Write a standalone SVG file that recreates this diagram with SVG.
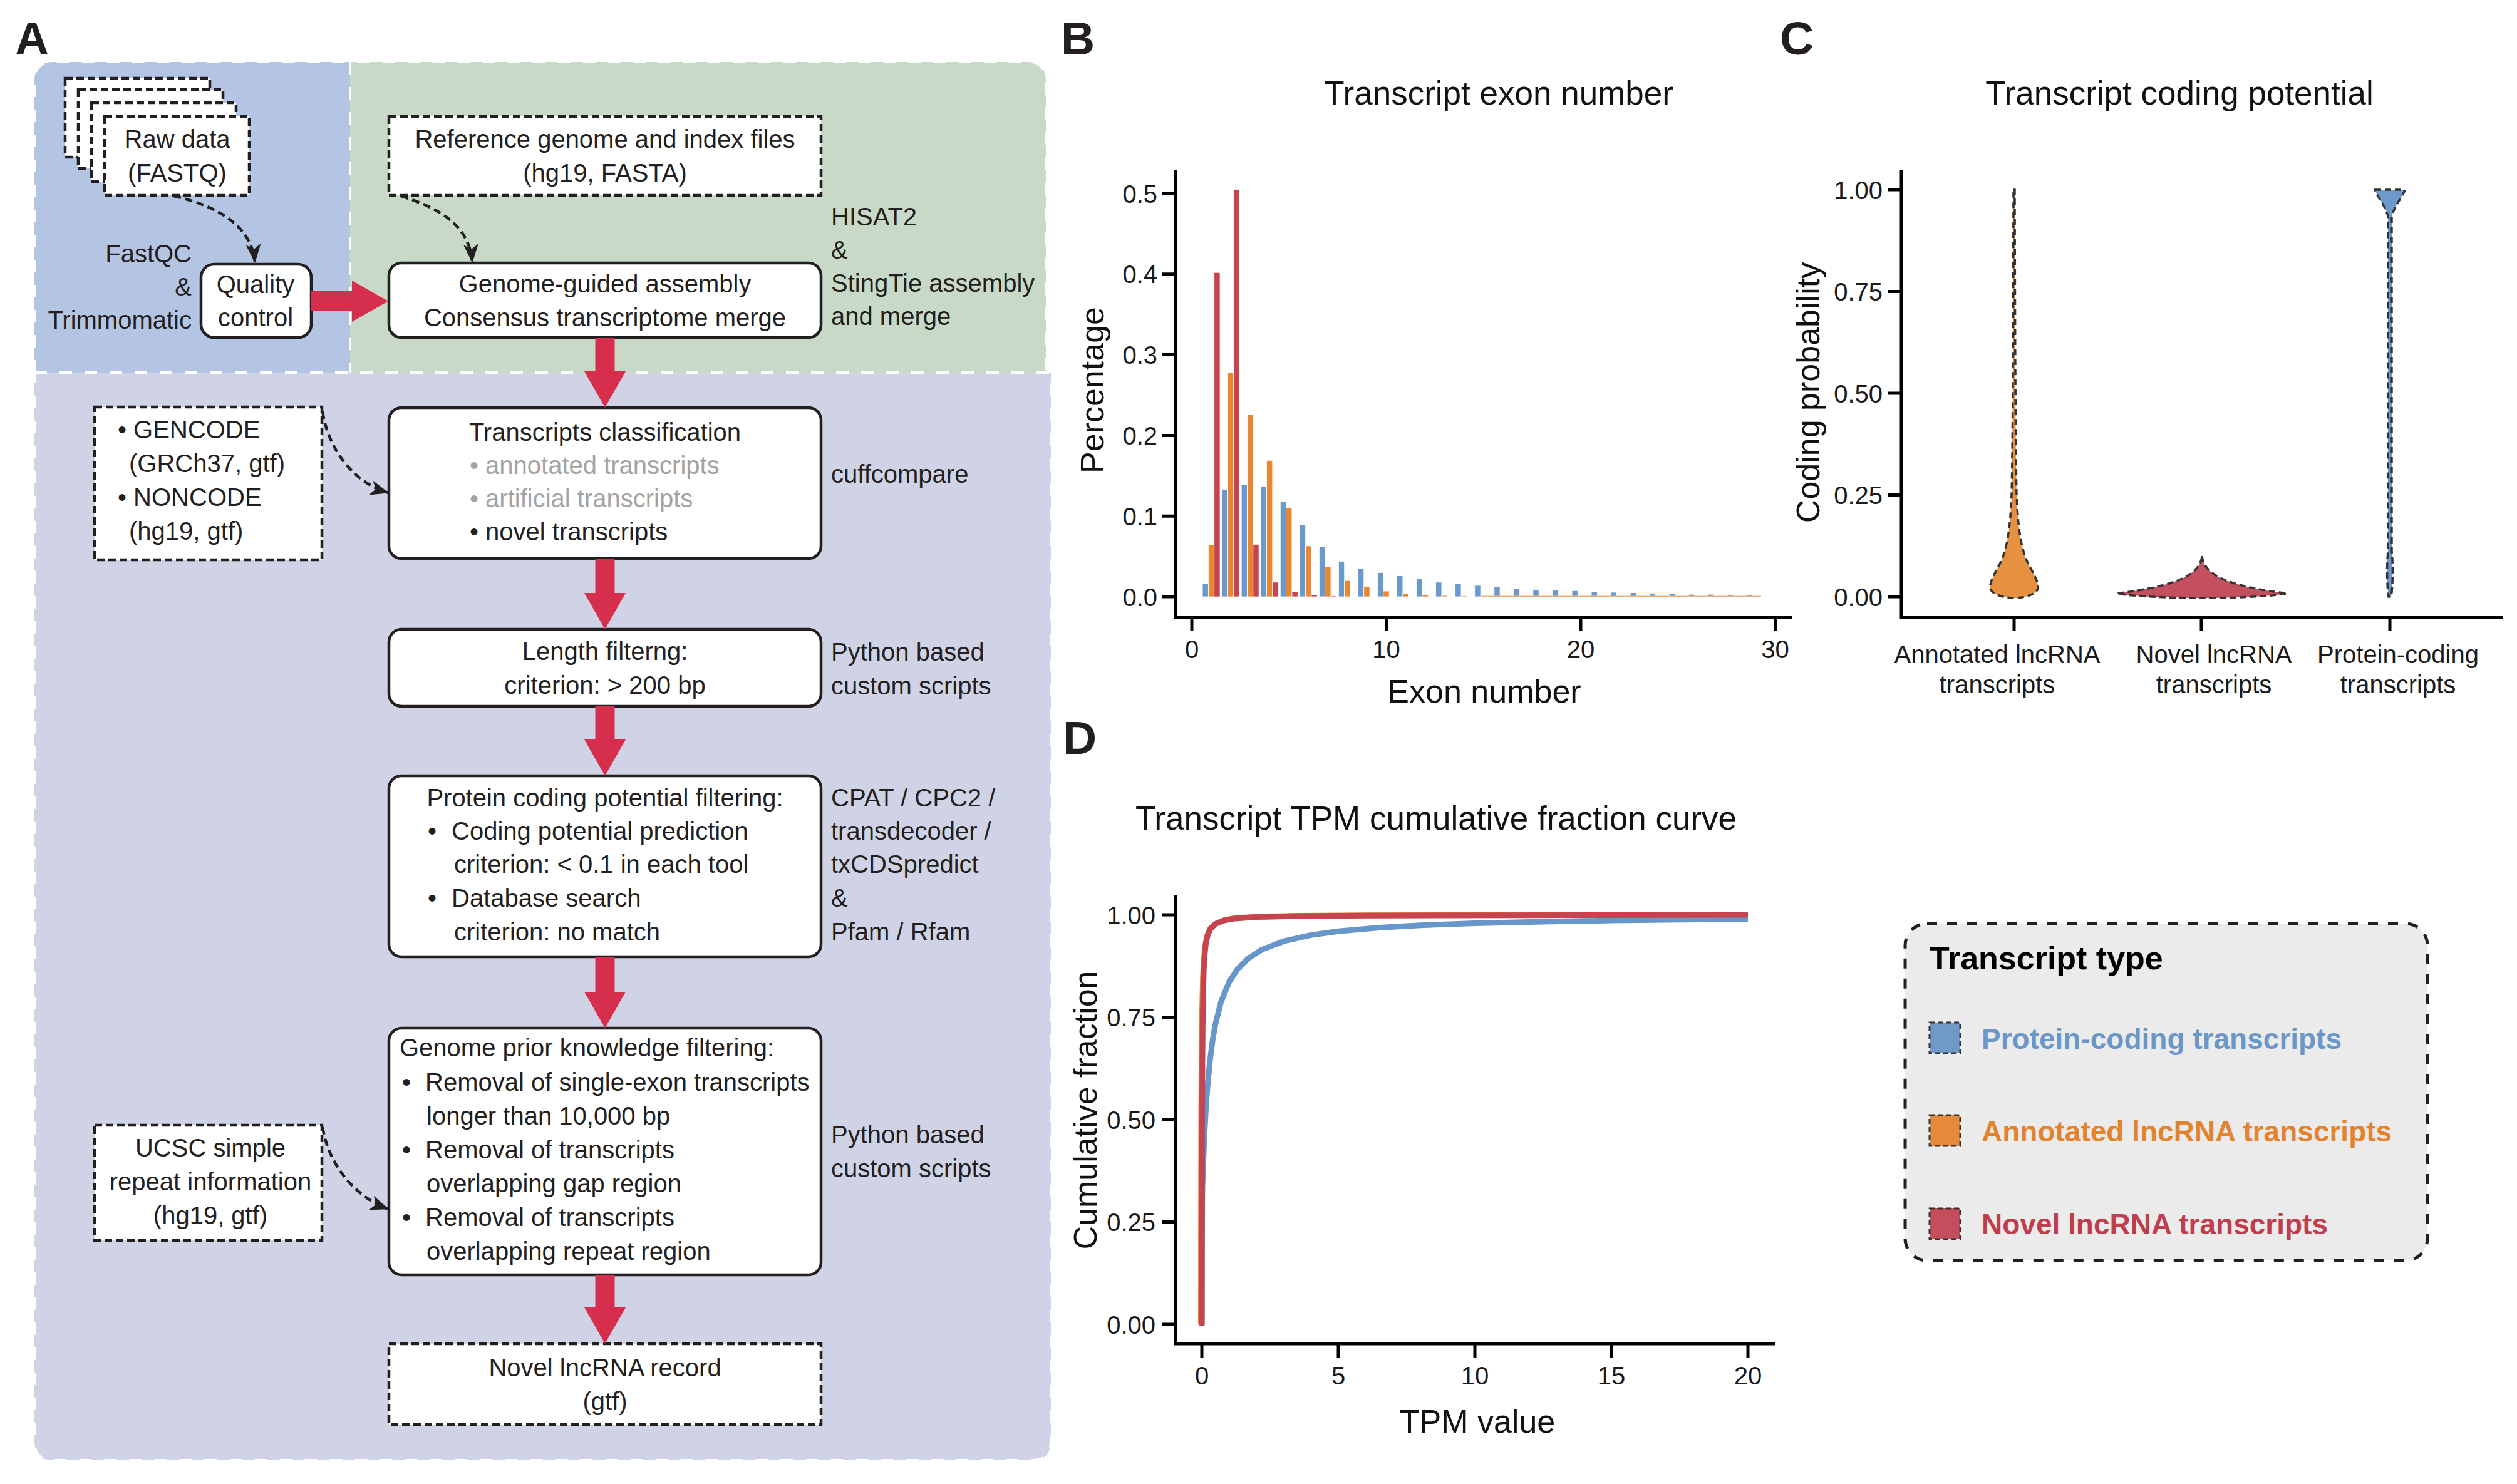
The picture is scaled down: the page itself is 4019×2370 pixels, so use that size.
<svg xmlns="http://www.w3.org/2000/svg" width="4019" height="2370" viewBox="0 0 4019 2370">
<style>
.t{font-family:"Liberation Sans",Arial,sans-serif;font-size:40px;fill:#231F20}
.c{text-anchor:middle}
.r{text-anchor:end}
.gr{fill:#A3A3A3}
.ax{font-size:40px;fill:#1a1a1a}
.at{font-size:52px;fill:#111}
.ti{font-size:53px;fill:#111}
.pl{font-size:75px;font-weight:bold;fill:#231F20}
.box{fill:#fff;stroke:#231F20;stroke-width:4.5}
.dbox{fill:#fff;stroke:#231F20;stroke-width:4.5;stroke-dasharray:12 6}
.red{fill:#D62F4E}
.dcon{fill:none;stroke:#231F20;stroke-width:4.5;stroke-dasharray:12 7}
.wd{fill:none;stroke:#fff;stroke-width:4;stroke-dasharray:20 20}
.axl{stroke:#000;stroke-width:5;fill:none}
.bb{fill:#6A9ACD;stroke:#fff;stroke-width:0.8}
.bo{fill:#E8872F;stroke:#fff;stroke-width:0.8}
.br{fill:#C5444F;stroke:#fff;stroke-width:0.8}
.vio{stroke:#333;stroke-width:3.5;stroke-dasharray:10 6}
.crv{fill:none;stroke-width:9;stroke-linejoin:round;stroke-linecap:butt}
.lg{font-family:"Liberation Sans",Arial,sans-serif;font-weight:bold;font-size:46px}
</style>
<defs>
<marker id="ah" viewBox="0 0 30 24" refX="29" refY="12" markerWidth="30" markerHeight="24" markerUnits="userSpaceOnUse" orient="auto">
<path d="M0,0 L30,12 L0,24 L8,12 Z" fill="#231F20"/>
</marker>
</defs>
<rect width="4019" height="2370" fill="#fff"/>

<!-- Panel A backgrounds -->
<g id="panelA-bg">
<path d="M55,129 Q55,99 85,99 L559,99 L559,595 L55,595 Z" fill="#B4C4E3"/>
<path d="M559,99 L1640,99 Q1670,99 1670,129 L1670,595 L559,595 Z" fill="#C8DAC7"/>
<path d="M55,595 L1678,595 L1678,2302 Q1678,2332 1648,2332 L85,2332 Q55,2332 55,2302 Z" fill="#CFD3E5"/>
<path class="wd" d="M55,595 L55,129 Q55,99 85,99 L1640,99 Q1670,99 1670,129 L1670,595"/>
<path class="wd" d="M55,595 L1678,595 L1678,2302 Q1678,2332 1648,2332 L85,2332 Q55,2332 55,2302 Z"/>
<path class="wd" d="M559,99 L559,595"/>
</g>

<text class="pl" x="24" y="87" font-family="Liberation Sans, Arial, sans-serif">A</text>
<text class="pl" x="1694" y="87" font-family="Liberation Sans, Arial, sans-serif">B</text>
<text class="pl" x="2842" y="87" font-family="Liberation Sans, Arial, sans-serif">C</text>
<text class="pl" x="1697" y="1204" font-family="Liberation Sans, Arial, sans-serif">D</text>

<!-- Nodes of panel A -->
<g id="raw-data">
<rect class="dbox" x="104" y="125" width="231" height="126"/>
<rect class="dbox" x="125" y="143" width="231" height="126"/>
<rect class="dbox" x="146" y="164" width="231" height="126"/>
<rect class="dbox" x="167" y="186" width="231" height="126"/>
<text class="t c" x="283" y="236">Raw data</text>
<text class="t c" x="283" y="290">(FASTQ)</text>
</g>
<g id="fastqc-label">
<text class="t r" x="306" y="419">FastQC</text>
<text class="t r" x="306" y="472">&amp;</text>
<text class="t r" x="306" y="525">Trimmomatic</text>
</g>
<g id="quality-control">
<rect class="box" x="321" y="422" width="176" height="117" rx="21"/>
<text class="t c" x="408" y="468">Quality</text>
<text class="t c" x="408" y="521">control</text>
</g>
<g id="reference">
<rect class="dbox" x="621" y="186" width="690" height="126"/>
<text class="t c" x="966" y="236">Reference genome and index files</text>
<text class="t c" x="966" y="290">(hg19, FASTA)</text>
</g>
<g id="assembly">
<rect class="box" x="621" y="420" width="690" height="119" rx="20"/>
<text class="t c" x="966" y="467">Genome-guided assembly</text>
<text class="t c" x="966" y="521">Consensus transcriptome merge</text>
</g>
<g id="assembly-tools">
<text class="t" x="1327" y="360">HISAT2</text>
<text class="t" x="1327" y="413">&amp;</text>
<text class="t" x="1327" y="466">StingTie assembly</text>
<text class="t" x="1327" y="519">and merge</text>
</g>
<g id="gencode">
<rect class="dbox" x="151" y="650" width="363" height="244"/>
<text class="t" x="188" y="700">• GENCODE</text>
<text class="t" x="206" y="754">(GRCh37, gtf)</text>
<text class="t" x="188" y="808">• NONCODE</text>
<text class="t" x="206" y="862">(hg19, gtf)</text>
</g>
<g id="classification">
<rect class="box" x="621" y="651" width="690" height="241" rx="20"/>
<text class="t c" x="966" y="704">Transcripts classification</text>
<text class="t gr" x="750" y="757">•  annotated transcripts</text>
<text class="t gr" x="750" y="810">•  artificial transcripts</text>
<text class="t" x="750" y="863">•  novel transcripts</text>
</g>
<text class="t" x="1327" y="771">cuffcompare</text>
<g id="length-filter">
<rect class="box" x="621" y="1005" width="690" height="123" rx="20"/>
<text class="t c" x="966" y="1054">Length filterng:</text>
<text class="t c" x="966" y="1108">criterion: &gt; 200 bp</text>
</g>
<g id="length-tools">
<text class="t" x="1327" y="1055">Python based</text>
<text class="t" x="1327" y="1109">custom scripts</text>
</g>
<g id="coding-filter">
<rect class="box" x="621" y="1239" width="690" height="289" rx="20"/>
<text class="t c" x="966" y="1288">Protein coding potential filtering:</text>
<text class="t" x="683" y="1341">•</text>
<text class="t" x="721" y="1341">Coding potential prediction</text>
<text class="t" x="725" y="1394">criterion: &lt; 0.1 in each tool</text>
<text class="t" x="683" y="1448">•</text>
<text class="t" x="721" y="1448">Database search</text>
<text class="t" x="725" y="1502">criterion: no match</text>
</g>
<g id="coding-tools">
<text class="t" x="1327" y="1288">CPAT / CPC2 /</text>
<text class="t" x="1327" y="1341">transdecoder /</text>
<text class="t" x="1327" y="1394">txCDSpredict</text>
<text class="t" x="1327" y="1448">&amp;</text>
<text class="t" x="1327" y="1502">Pfam / Rfam</text>
</g>
<g id="ucsc">
<rect class="dbox" x="151" y="1797" width="363" height="184"/>
<text class="t c" x="336" y="1847">UCSC simple</text>
<text class="t c" x="336" y="1901">repeat information</text>
<text class="t c" x="336" y="1955">(hg19, gtf)</text>
</g>
<g id="prior-filter">
<rect class="box" x="621" y="1642" width="690" height="394" rx="20"/>
<text class="t" x="638" y="1687">Genome prior knowledge filtering:</text>
<text class="t" x="642" y="1742">•</text>
<text class="t" x="679" y="1742">Removal of single-exon transcripts</text>
<text class="t" x="681" y="1796">longer than 10,000 bp</text>
<text class="t" x="642" y="1850">•</text>
<text class="t" x="679" y="1850">Removal of transcripts</text>
<text class="t" x="681" y="1904">overlapping gap region</text>
<text class="t" x="642" y="1958">•</text>
<text class="t" x="679" y="1958">Removal of transcripts</text>
<text class="t" x="681" y="2012">overlapping repeat region</text>
</g>
<g id="prior-tools">
<text class="t" x="1327" y="1826">Python based</text>
<text class="t" x="1327" y="1880">custom scripts</text>
</g>
<g id="novel-record">
<rect class="dbox" x="621" y="2146" width="690" height="129"/>
<text class="t c" x="966" y="2198">Novel lncRNA record</text>
<text class="t c" x="966" y="2252">(gtf)</text>
</g>

<!-- Connectors -->
<g id="connectors">
<polygon class="red" points="497,465 562,465 562,448 620,481 562,514 562,496 497,496"/>
<polygon class="red" points="950.5,539 981.5,539 981.5,593 999,593 966,651 933,593 950.5,593"/>
<polygon class="red" points="950.5,892 981.5,892 981.5,947 999,947 966,1005 933,947 950.5,947"/>
<polygon class="red" points="950.5,1128 981.5,1128 981.5,1181 999,1181 966,1239 933,1181 950.5,1181"/>
<polygon class="red" points="950.5,1528 981.5,1528 981.5,1584 999,1584 966,1642 933,1584 950.5,1584"/>
<polygon class="red" points="950.5,2036 981.5,2036 981.5,2088 999,2088 966,2146 933,2088 950.5,2088"/>
<path class="dcon" d="M277,313 C345,328 402,360 407,419" marker-end="url(#ah)"/>
<path class="dcon" d="M640,313 C705,333 750,362 754,419" marker-end="url(#ah)"/>
<path class="dcon" d="M515,657 C525,722 568,772 620,787" marker-end="url(#ah)"/>
<path class="dcon" d="M515,1800 C525,1862 568,1912 620,1931" marker-end="url(#ah)"/>
</g>

<!-- Panel B -->
<g id="panelB">
<text class="t ti c" x="2393" y="167">Transcript exon number</text>
<g id="bars">
<rect class="bb" x="1920.05" y="932.4" width="9.33" height="20.6"/>
<rect class="bo" x="1929.38" y="870.6" width="9.33" height="82.4"/>
<rect class="br" x="1938.72" y="435.2" width="9.33" height="517.8"/>
<rect class="bb" x="1951.1" y="781.7" width="9.33" height="171.3"/>
<rect class="bo" x="1960.43" y="594.9" width="9.33" height="358.1"/>
<rect class="br" x="1969.77" y="302.6" width="9.33" height="650.4"/>
<rect class="bb" x="1982.15" y="774" width="9.33" height="179"/>
<rect class="bo" x="1991.48" y="661.9" width="9.33" height="291.1"/>
<rect class="br" x="2000.82" y="869.3" width="9.33" height="83.7"/>
<rect class="bb" x="2013.2" y="776.5" width="9.33" height="176.5"/>
<rect class="bo" x="2022.53" y="735.3" width="9.33" height="217.7"/>
<rect class="br" x="2031.87" y="929.8" width="9.33" height="23.2"/>
<rect class="bb" x="2044.25" y="801" width="9.33" height="152"/>
<rect class="bo" x="2053.58" y="811.3" width="9.33" height="141.7"/>
<rect class="br" x="2062.92" y="945.3" width="9.33" height="7.7"/>
<rect class="bb" x="2075.3" y="838.4" width="9.33" height="114.6"/>
<rect class="bo" x="2084.63" y="871.9" width="9.33" height="81.1"/>
<rect class="br" x="2093.97" y="950.4" width="9.33" height="2.6"/>
<rect class="bb" x="2106.35" y="873.1" width="9.33" height="79.9"/>
<rect class="bo" x="2115.68" y="905.3" width="9.33" height="47.7"/>
<rect class="br" x="2125.02" y="951.7" width="9.33" height="1.3"/>
<rect class="bb" x="2137.4" y="896.3" width="9.33" height="56.7"/>
<rect class="bo" x="2146.73" y="927.2" width="9.33" height="25.8"/>
<rect class="bb" x="2168.45" y="907.9" width="9.33" height="45.1"/>
<rect class="bo" x="2177.78" y="937.5" width="9.33" height="15.5"/>
<rect class="bb" x="2199.5" y="914.4" width="9.33" height="38.6"/>
<rect class="bo" x="2208.83" y="944" width="9.33" height="9"/>
<rect class="bb" x="2230.55" y="919.5" width="9.33" height="33.5"/>
<rect class="bo" x="2239.88" y="947.8" width="9.33" height="5.2"/>
<rect class="bb" x="2261.6" y="924.7" width="9.33" height="28.3"/>
<rect class="bo" x="2270.93" y="949.8" width="9.33" height="3.2"/>
<rect class="bb" x="2292.65" y="929.8" width="9.33" height="23.2"/>
<rect class="bo" x="2301.98" y="951.1" width="9.33" height="1.9"/>
<rect class="bb" x="2323.7" y="932.4" width="9.33" height="20.6"/>
<rect class="bo" x="2333.03" y="951.7" width="9.33" height="1.3"/>
<rect class="bb" x="2354.75" y="935" width="9.33" height="18"/>
<rect class="bb" x="2385.8" y="937.5" width="9.33" height="15.5"/>
<rect class="bb" x="2416.85" y="940.1" width="9.33" height="12.9"/>
<rect class="bb" x="2447.9" y="941.4" width="9.33" height="11.6"/>
<rect class="bb" x="2478.95" y="942.7" width="9.33" height="10.3"/>
<rect class="bb" x="2510" y="943.3" width="9.33" height="9.7"/>
<rect class="bb" x="2541.05" y="945.3" width="9.33" height="7.7"/>
<rect class="bb" x="2572.1" y="945.9" width="9.33" height="7.1"/>
<rect class="bb" x="2603.15" y="946.6" width="9.33" height="6.4"/>
<rect class="bb" x="2634.2" y="947.8" width="9.33" height="5.2"/>
<rect class="bb" x="2665.25" y="948.5" width="9.33" height="4.5"/>
<rect class="bb" x="2696.3" y="949.1" width="9.33" height="3.9"/>
<rect class="bb" x="2727.35" y="949.1" width="9.33" height="3.9"/>
<rect class="bb" x="2758.4" y="949.8" width="9.33" height="3.2"/>
<rect class="bb" x="2789.45" y="949.8" width="9.33" height="3.2"/>
<rect x="2364" y="951.5" width="448" height="1.5" fill="#F0B080"/>
</g>
<path class="axl" d="M1877,271 L1877,986 L2862,986"/>
<path class="axl" d="M1856,953 H1877 M1856,824.2 H1877 M1856,695.4 H1877 M1856,566.6 H1877 M1856,437.8 H1877 M1856,309 H1877"/>
<path class="axl" d="M1903,986 V1008 M2213.5,986 V1008 M2524,986 V1008 M2834.5,986 V1008"/>
<text class="t ax r" x="1848" y="967.5">0.0</text>
<text class="t ax r" x="1848" y="838.7">0.1</text>
<text class="t ax r" x="1848" y="709.9">0.2</text>
<text class="t ax r" x="1848" y="581.1">0.3</text>
<text class="t ax r" x="1848" y="452.3">0.4</text>
<text class="t ax r" x="1848" y="323.5">0.5</text>
<text class="t ax c" x="1903" y="1051">0</text>
<text class="t ax c" x="2213.5" y="1051">10</text>
<text class="t ax c" x="2524" y="1051">20</text>
<text class="t ax c" x="2834.5" y="1051">30</text>
<text class="t at c" x="2370" y="1122">Exon number</text>
<text class="t at c" transform="translate(1762,623) rotate(-90)">Percentage</text>
</g>

<!-- Panel C -->
<g id="panelC">
<text class="t ti c" x="3480" y="167">Transcript coding potential</text>
<path class="vio" fill="#E69140" d="M3215,303 L3217,303 C3217.5,500 3218,700 3220,790 C3222,840 3226,870 3236,895 C3246,915 3256,930 3254,940 C3252,948 3235,955 3216,955 C3197,955 3180,948 3178,940 C3176,930 3186,915 3196,895 C3206,870 3210,840 3212,790 C3214,700 3214.5,500 3215,303 Z"/>
<path class="vio" fill="#C44F5E" d="M3516,888 C3518,910 3540,925 3580,935 C3620,945 3645,946 3652,948 C3620,953 3560,955 3516,955 C3472,955 3412,953 3380,948 C3387,946 3412,945 3452,935 C3492,925 3514,910 3516,888 Z"/>
<path class="vio" fill="#6E9ACB" d="M3792,303 L3840,303 C3838,312 3825,325 3819,345 L3819,880 C3821,900 3821,935 3818,953 L3814,953 C3811,935 3811,900 3813,880 L3813,345 C3807,325 3794,312 3792,303 Z"/>
<path class="axl" d="M3036,271 L3036,986 L3997,986"/>
<path class="axl" d="M3014,953 H3036 M3014,790.5 H3036 M3014,628 H3036 M3014,465.5 H3036 M3014,303 H3036"/>
<path class="axl" d="M3216,986 V1008 M3515,986 V1008 M3816,986 V1008"/>
<text class="t ax r" x="3006" y="967.5">0.00</text>
<text class="t ax r" x="3006" y="805">0.25</text>
<text class="t ax r" x="3006" y="642.5">0.50</text>
<text class="t ax r" x="3006" y="480">0.75</text>
<text class="t ax r" x="3006" y="317.5">1.00</text>
<text class="t ax c" x="3189" y="1059">Annotated lncRNA</text>
<text class="t ax c" x="3189" y="1107">transcripts</text>
<text class="t ax c" x="3535" y="1059">Novel lncRNA</text>
<text class="t ax c" x="3535" y="1107">transcripts</text>
<text class="t ax c" x="3829" y="1059">Protein-coding</text>
<text class="t ax c" x="3829" y="1107">transcripts</text>
<text class="t at c" transform="translate(2905,627) rotate(-90)">Coding probability</text>
</g>

<!-- Panel D -->
<g id="panelD">
<text class="t ti c" x="2293" y="1325">Transcript TPM cumulative fraction curve</text>
<polyline class="crv" stroke="#6797CA" points="1919,2115 1919.3,1985 1919.9,1896.6 1921.2,1859.3 1923.4,1809.3 1925.5,1770.3 1927.7,1739.6 1932.1,1693.2 1936.4,1659.8 1940.8,1635 1949.5,1600.3 1962.6,1568.3 1975.7,1548 1993.1,1530.7 2014.9,1516.6 2049.8,1503.2 2093.4,1493.4 2137,1487.3 2202.4,1481.5 2267.8,1477.8 2355,1474.5 2464,1471.9 2573,1470.1 2682,1468.8 2791,1467.9"/>
<polyline class="crv" stroke="#E8872F" points="1917.5,2115 1917.6,2000 1917.8,1890 1918,1800 1918.4,1720 1918.9,1665 1919.6,1610 1920.6,1565 1922,1535 1924,1512 1927.5,1495 1932,1484 1940,1476 1953,1470 1970,1466.5 2006,1464 2070,1462.5 2180,1461.8 2791,1460.5"/>
<polyline class="crv" stroke="#C5444F" points="1919,2117 1919.1,2014.3 1919.3,1910.6 1919.4,1820.7 1919.7,1748.8 1919.9,1701 1920.3,1640.8 1921,1591.8 1922.1,1550.9 1923.4,1526.4 1925.5,1506.1 1928.6,1492.4 1933,1482.6 1940.8,1475.4 1953.9,1470.2 1971.3,1466.9 2006.2,1464.6 2071.6,1463 2180.6,1462.3 2791,1461"/>
<path class="axl" d="M1877,1429 L1877,2146 L2835,2146"/>
<path class="axl" d="M1856,2115 H1877 M1856,1951.5 H1877 M1856,1788 H1877 M1856,1624.5 H1877 M1856,1461 H1877"/>
<path class="axl" d="M1919,2146 V2168 M2137,2146 V2168 M2355,2146 V2168 M2573,2146 V2168 M2791,2146 V2168"/>
<text class="t ax r" x="1845" y="2129.5">0.00</text>
<text class="t ax r" x="1845" y="1966">0.25</text>
<text class="t ax r" x="1845" y="1802.5">0.50</text>
<text class="t ax r" x="1845" y="1639">0.75</text>
<text class="t ax r" x="1845" y="1475.5">1.00</text>
<text class="t ax c" x="1919" y="2211">0</text>
<text class="t ax c" x="2137" y="2211">5</text>
<text class="t ax c" x="2355" y="2211">10</text>
<text class="t ax c" x="2573" y="2211">15</text>
<text class="t ax c" x="2791" y="2211">20</text>
<text class="t at c" x="2359" y="2288">TPM value</text>
<text class="t at c" transform="translate(1751,1773) rotate(-90)">Cumulative fraction</text>
</g>

<!-- Legend -->
<g id="legend">
<rect x="3042" y="1475" width="834" height="538" rx="35" fill="#EBEBEB" stroke="#231F20" stroke-width="5" stroke-dasharray="16 16"/>
<text class="lg" x="3081" y="1548" fill="#000" style="font-size:52px">Transcript type</text>
<rect x="3081" y="1633" width="49" height="49" fill="#7099C8" stroke="#333" stroke-width="3" stroke-dasharray="8 5"/>
<text class="lg" x="3164" y="1675" fill="#6B97C8">Protein-coding transcripts</text>
<rect x="3081" y="1781" width="49" height="49" fill="#E58A3A" stroke="#333" stroke-width="3" stroke-dasharray="8 5"/>
<text class="lg" x="3164" y="1823" fill="#E3832E">Annotated lncRNA transcripts</text>
<rect x="3081" y="1930" width="49" height="49" fill="#C44E5C" stroke="#333" stroke-width="3" stroke-dasharray="8 5"/>
<text class="lg" x="3164" y="1971" fill="#BF3E4E">Novel lncRNA transcripts</text>
</g>
</svg>
